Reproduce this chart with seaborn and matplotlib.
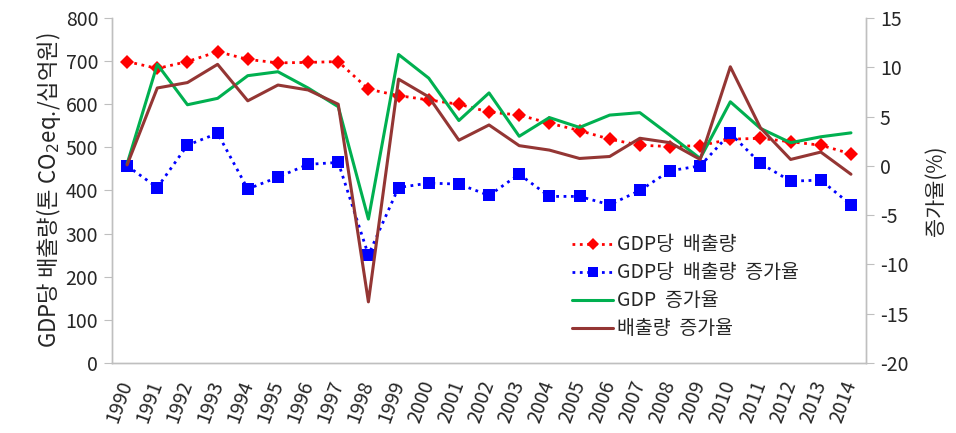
import pandas as pd
import matplotlib.pyplot as plt
import seaborn as sns

sns.set_style("white")
plt.rcParams['font.family'] = ['Noto Sans CJK KR', 'DejaVu Sans']
plt.rcParams['axes.unicode_minus'] = False

# data
years = list(range(1990, 2015))
emis_per_gdp = [699, 683, 699, 722, 704, 696, 697, 699, 635, 620, 610, 600, 582, 575,
                556, 539, 519, 505, 502, 504, 519, 521, 513, 505, 485]
emis_per_gdp_growth = [0.0, -2.2, 2.1, 3.3, -2.35, -1.15, 0.15, 0.35, -9.05, -2.2, -1.75, -1.85,
                       -3.0, -0.85, -3.1, -3.1, -3.95, -2.5, -0.5, 0.0, 3.3, 0.25, -1.55, -1.45, -3.95]
gdp_growth = [0.2, 10.3, 6.2, 6.85, 9.15, 9.55, 7.9, 6.0, -5.4, 11.3, 8.9, 4.6, 7.4, 3.0,
              4.9, 3.9, 5.15, 5.4, 3.1, 0.75, 6.5, 3.8, 2.35, 2.95, 3.35]
emis_growth = [0.1, 7.9, 8.45, 10.3, 6.6, 8.2, 7.7, 6.25, -13.8, 8.8, 7.0, 2.6, 4.15, 2.05,
               1.6, 0.75, 0.95, 2.8, 2.35, 0.65, 10.05, 3.85, 0.65, 1.4, -0.85]

df = pd.DataFrame({'year': years, 'per_gdp': emis_per_gdp, 'per_gdp_g': emis_per_gdp_growth,
                   'gdp_g': gdp_growth, 'emis_g': emis_growth})

fig, ax = plt.subplots(figsize=(9.56, 4.33), dpi=100)
fig.subplots_adjust(left=0.1172, right=0.9059, top=0.9584, bottom=0.1617)
ax2 = ax.twinx()

sns.lineplot(data=df, x='year', y='per_gdp', ax=ax, color='#FF0000', linestyle=':',
             linewidth=2, marker='D', markersize=7, markeredgewidth=0, label='GDP당  배출량')
sns.lineplot(data=df, x='year', y='per_gdp_g', ax=ax2, color='#0000FF', linestyle=':',
             linewidth=2, marker='s', markersize=8, markeredgewidth=0, label='GDP당  배출량  증가율')
sns.lineplot(data=df, x='year', y='gdp_g', ax=ax2, color='#00B050', linewidth=2.2,
             label='GDP  증가율')
sns.lineplot(data=df, x='year', y='emis_g', ax=ax2, color='#943634', linewidth=2.2,
             label='배출량  증가율')

for a in (ax, ax2):
    if a.get_legend() is not None:
        a.get_legend().remove()

ax.set_xlim(1989.5, 2014.5)
ax.set_ylim(0, 800)
ax2.set_ylim(-20, 15)
ax.set_yticks(range(0, 801, 100))
ax2.set_yticks(range(-20, 16, 5))
ax.set_xticks(years)
ax.set_xticklabels([str(y) for y in years], rotation=70, ha='right', va='center',
                   rotation_mode='anchor', fontsize=14)
ax.set_xticks([y + 0.5 for y in range(1989, 2015)], minor=True)
ax.tick_params(axis='x', which='major', length=0, pad=13)
ax.tick_params(axis='x', which='minor', length=6, color='#BFBFBF', direction='inout')
ax.tick_params(axis='y', length=6, color='#BFBFBF', labelsize=14, pad=4)
ax2.tick_params(axis='y', length=6, color='#BFBFBF', labelsize=14, pad=4)

ax.set_xlabel('')
ax.set_ylabel(r'GDP당 배출량(톤 CO$_2$eq./십억원)', fontsize=16, labelpad=2)
ax2.set_ylabel('증가율(%)', fontsize=15, rotation=90, labelpad=12)

for a in (ax, ax2):
    a.spines['top'].set_visible(False)
    for s in ('left', 'right', 'bottom'):
        a.spines[s].set_color('#BFBFBF')
        a.spines[s].set_linewidth(1)

h1, l1 = ax.get_legend_handles_labels()
h2, l2 = ax2.get_legend_handles_labels()
ax2.legend(h1 + h2, l1 + l2, loc='upper left', bbox_to_anchor=(0.6, 0.395), frameon=False,
           fontsize=14, handlelength=2.1, handletextpad=0.2, labelspacing=0.36,
           borderaxespad=0, markerscale=0.85)

plt.savefig('out.png', dpi=100)
